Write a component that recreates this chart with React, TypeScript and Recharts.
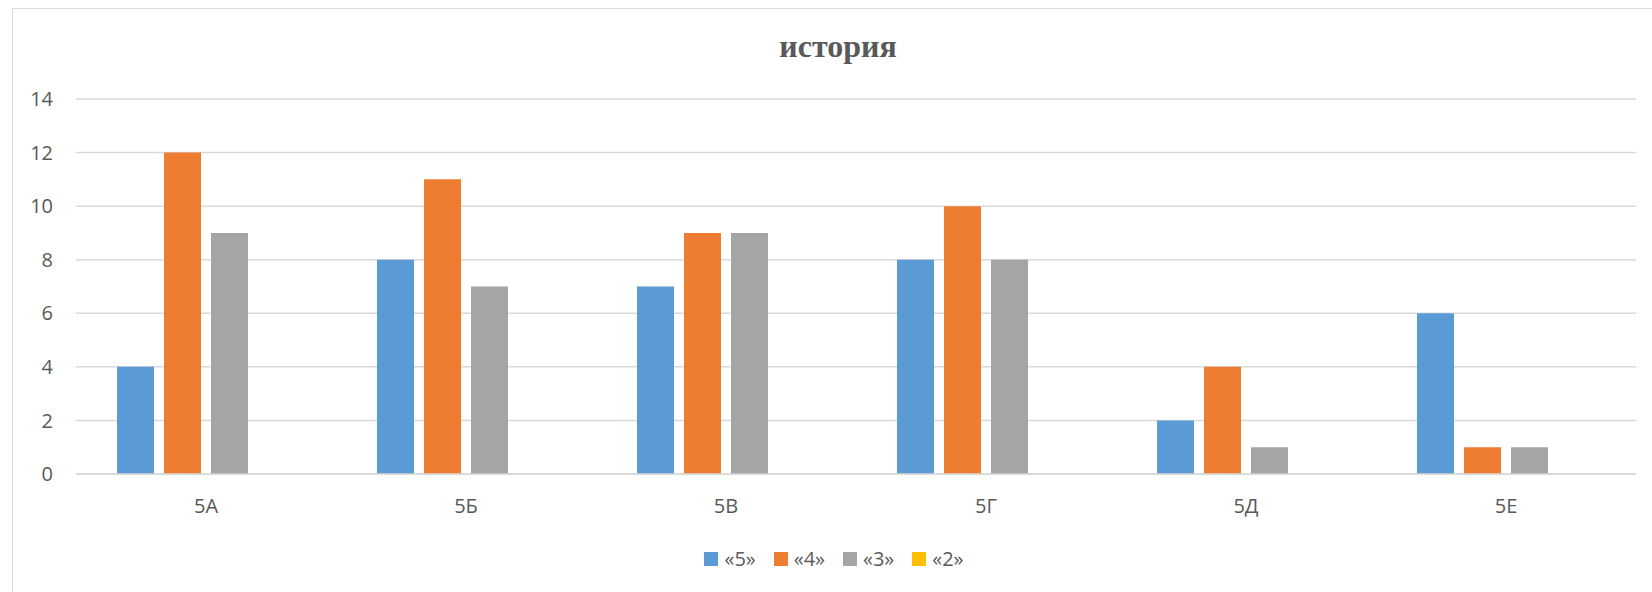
import { Bar, BarChart, CartesianGrid, XAxis, YAxis } from 'recharts'

const classes = ['5А', '5Б', '5В', '5Г', '5Д', '5Е']
const grade5 = [4, 8, 7, 8, 2, 6]
const grade4 = [12, 11, 9, 10, 4, 1]
const grade3 = [9, 7, 9, 8, 1, 1]
const grade2 = [0, 0, 0, 0, 0, 0]
const yTicks = [0, 2, 4, 6, 8, 10, 12, 14]

const series = [
  { key: 'g5', name: '«5»', color: '#5B9BD5' },
  { key: 'g4', name: '«4»', color: '#ED7D31' },
  { key: 'g3', name: '«3»', color: '#A5A5A5' },
  { key: 'g2', name: '«2»', color: '#FFC000' }
]

const data = classes.map((name, i) => ({
  name,
  g5: grade5[i],
  g4: grade4[i],
  g3: grade3[i],
  g2: grade2[i]
}))

const font = '"Open Sans", sans-serif'
const textColor = '#595959'
const gridColor = '#d9d9d9'

export default function App() {
  return (
    <div style={{ position: 'absolute', left: 0, top: 0, width: 1652, height: 592, background: '#fff', overflow: 'hidden' }}>
      <div style={{ position: 'absolute', left: 12, top: 8, width: 1700, height: 700, borderLeft: `1px solid ${gridColor}`, borderTop: `1px solid ${gridColor}` }} />
      <div style={{ position: 'absolute', left: 638, top: 28, width: 400, textAlign: 'center', fontFamily: '"Liberation Serif", "Times New Roman", serif', fontWeight: 'bold', fontSize: 32, color: textColor }}>
        история
      </div>
      <div style={{ position: 'absolute', left: 0, top: 0 }}>
        <BarChart width={1652} height={592} data={data} margin={{ top: 99, right: 16, bottom: 88, left: 26 }} barSize={37} barGap={10}>
          <CartesianGrid vertical={false} stroke={gridColor} strokeWidth={1.5} />
          <XAxis dataKey="name" height={30} axisLine={{ stroke: gridColor, strokeWidth: 1.5 }} tickLine={false} tickSize={0} tickMargin={25} tick={{ fill: textColor, fontSize: 20, fontFamily: font }} />
          <YAxis width={50} domain={[0, 14]} ticks={yTicks} axisLine={false} tickLine={false} tickSize={0} tickMargin={23} tick={{ fill: textColor, fontSize: 20, fontFamily: font }} />
          {series.map((s) => (
            <Bar key={s.key} dataKey={s.key} name={s.name} fill={s.color} isAnimationActive={false} />
          ))}
        </BarChart>
      </div>
      <div style={{ position: 'absolute', top: 545, left: 0, width: 1652, display: 'flex', justifyContent: 'center', paddingLeft: 34, boxSizing: 'border-box', fontFamily: font, fontSize: 20, color: textColor }}>
        {series.map((s) => (
          <div key={s.key} style={{ display: 'flex', alignItems: 'center', marginRight: 18 }}>
            <span style={{ width: 14, height: 14, background: s.color, marginRight: 6, display: 'inline-block' }} />
            <span>{s.name}</span>
          </div>
        ))}
      </div>
    </div>
  )
}
